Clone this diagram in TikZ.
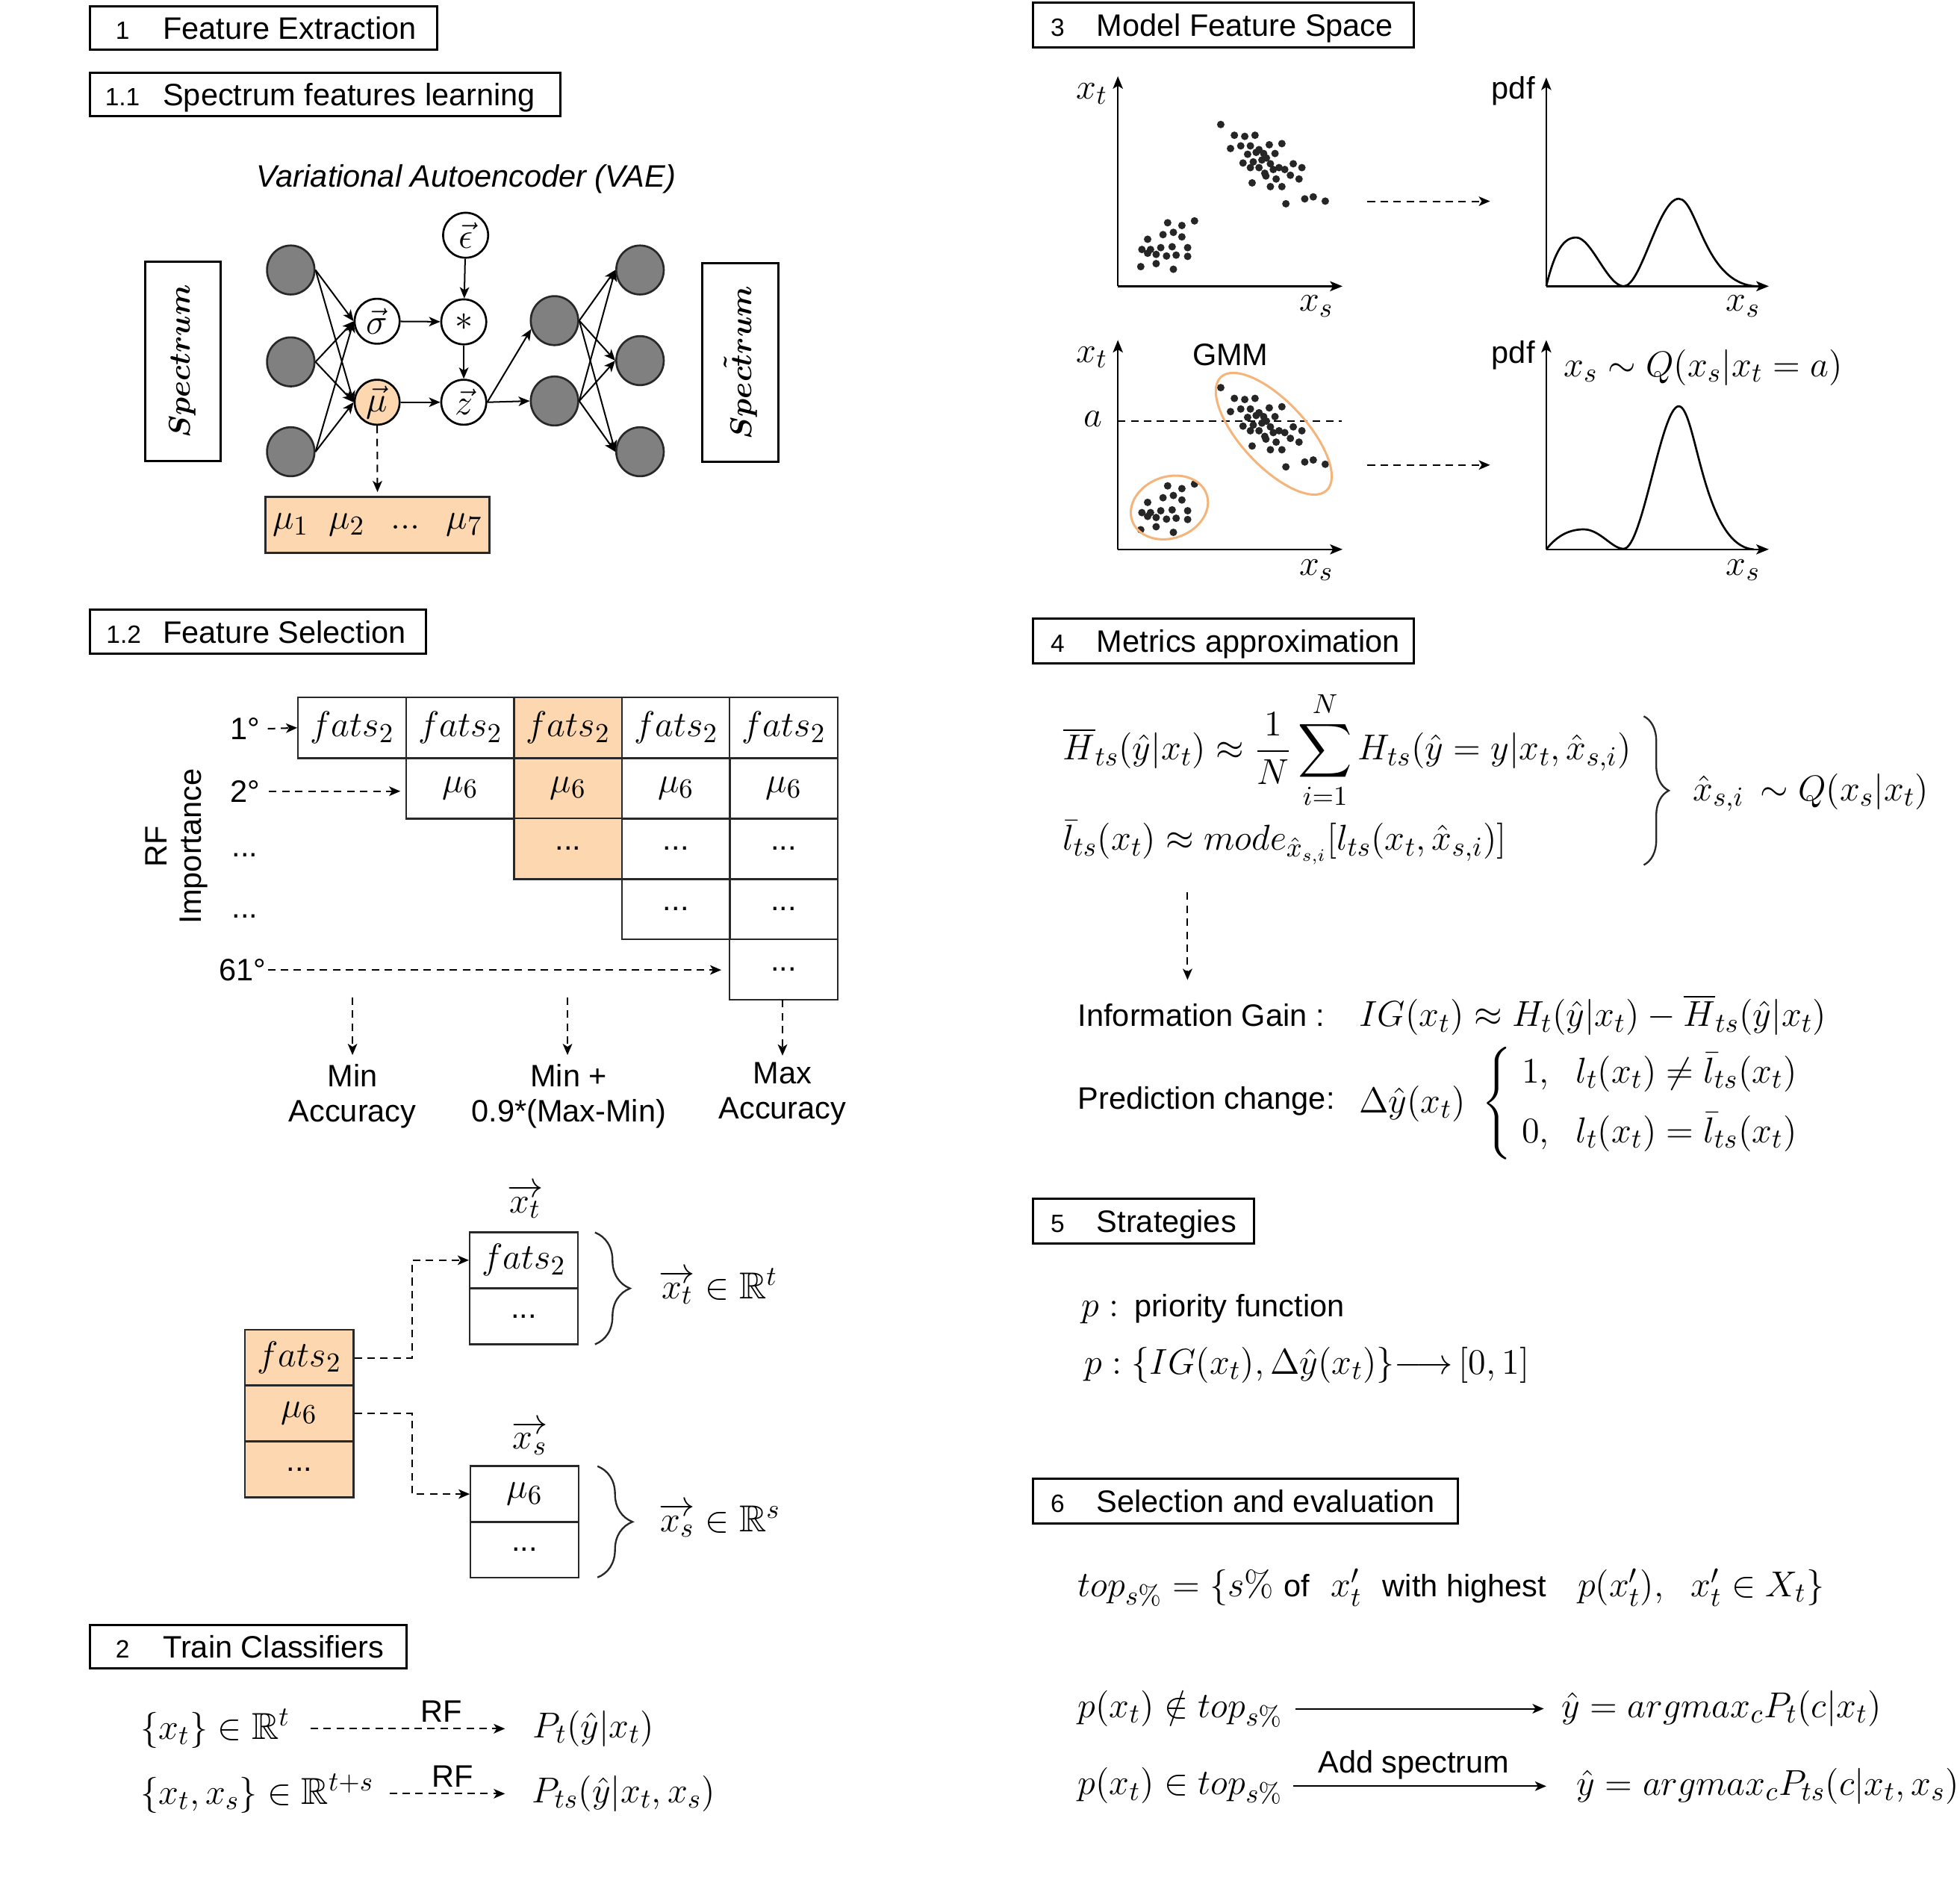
\documentclass[tikz,border=0pt]{standalone}
\usepackage{amsmath}
\usepackage{amssymb}
\usepackage[no-math]{fontspec}
\setmainfont{Liberation Sans}
\usetikzlibrary{arrows.meta,decorations.pathreplacing,calc}
\definecolor{orfill}{RGB}{252,215,176}
\definecolor{orline}{RGB}{244,180,122}
\definecolor{gfill}{RGB}{128,128,128}
\definecolor{dk}{RGB}{40,40,40}
\tikzset{
  sans/.style={font=\fontsize{12.4}{14.5}\selectfont, inner sep=0pt},
  numf/.style={font=\fontsize{10}{12}\selectfont, inner sep=0pt},
  mth/.style={font=\fontsize{15}{18}\selectfont, inner sep=0pt},
  hbox/.style={draw=black, line width=0.9pt},
  atip/.style={-{Stealth[length=4.5pt,width=3.8pt,inset=1.2pt]}},
  arr/.style={atip, line width=0.6pt},
  darr/.style={arr, dash pattern=on 3pt off 2.2pt},
  dline/.style={line width=0.6pt, dash pattern=on 3pt off 2.2pt},
  gcirc/.style={ellipse, draw=dk, line width=0.8pt, fill=gfill, minimum width=19pt, minimum height=19.6pt, inner sep=0pt},
  wcirc/.style={circle, draw=black, line width=0.8pt, fill=white, minimum size=18pt, inner sep=0pt, font=\fontsize{14}{18}\selectfont},
  gcell/.style={draw=dk, line width=0.7pt, minimum width=43.25pt, minimum height=24.25pt, inner sep=0pt, font=\fontsize{15}{19}\selectfont},
  vcell/.style={draw=dk, line width=0.7pt, minimum width=43.2pt, minimum height=22.4pt, inner sep=0pt, font=\fontsize{15}{19}\selectfont},
  axisln/.style={line width=0.7pt, -{Stealth[length=5pt,width=4pt,inset=1.2pt]}},
  brc/.style={decorate, decoration={brace, amplitude=#1}, draw=dk, line width=0.7pt},
  dot/.style={fill=black!85},
  ell/.style={draw=orline, line width=0.9pt},
}
\usetikzlibrary{shapes.geometric}
\begin{document}
\begin{tikzpicture}[x=0.5pt,y=-0.5pt]
\useasboundingbox (0,0) rectangle (1568,1506);

% ---------------- headers ----------------
\draw[hbox] (72,5) rectangle (350,40);
\node[numf,anchor=base] (n1) at (98,31.5) {1};
\node[sans,anchor=base west] (t1) at (130,31.5) {Feature Extraction};
\draw[hbox] (72,58) rectangle (448,93);
\node[numf,anchor=base] (n11) at (98,84.5) {1.1};
\node[sans,anchor=base west] (t11) at (130,84.5) {Spectrum features learning};
\draw[hbox] (72,488) rectangle (341,523);
\node[numf,anchor=base] (n12) at (99,514.5) {1.2};
\node[sans,anchor=base west] (t12) at (130,514.5) {Feature Selection};
\draw[hbox] (72,1300) rectangle (325,1335);
\node[numf,anchor=base] (n2) at (98,1326.5) {2};
\node[sans,anchor=base west] (t2) at (130,1326.5) {Train Classifiers};
\draw[hbox] (826.5,2) rectangle (1131,38);
\node[numf,anchor=base] (n3) at (846,29) {3};
\node[sans,anchor=base west] (t3) at (877,29) {Model Feature Space};
\draw[hbox] (826.5,495) rectangle (1131,531);
\node[numf,anchor=base] (n4) at (846,522) {4};
\node[sans,anchor=base west] (t4) at (877,522) {Metrics approximation};
\draw[hbox] (826.5,959) rectangle (1003.5,995);
\node[numf,anchor=base] (n5) at (846,986) {5};
\node[sans,anchor=base west] (t5) at (877,986) {Strategies};
\draw[hbox] (826.5,1183) rectangle (1166,1219);
\node[numf,anchor=base] (n6) at (846,1210) {6};
\node[sans,anchor=base west] (t6) at (877,1210) {Selection and evaluation};

% ---------------- 1.1 VAE ----------------
\node[sans,font=\fontsize{12.4}{15}\selectfont\itshape] (vae) at (373,143) {Variational Autoencoder (VAE)};
\draw[hbox] (116,209.5) rectangle (176.5,369);
\node[rotate=90,font=\fontsize{12.5}{15}\selectfont,inner sep=0pt] (spl) at (146,289) {$\boldsymbol{Spectrum}$};
\draw[hbox] (562,210.5) rectangle (623,369.5);
\node[rotate=90,font=\fontsize{12.5}{15}\selectfont,inner sep=0pt] (spr) at (592.5,290) {$\boldsymbol{\tilde{Spectrum}}$};

\node[gcirc] (gl1) at (232.6,216) {};
\node[gcirc] (gl2) at (232.6,289.5) {};
\node[gcirc] (gl3) at (232.6,361.4) {};
\node[wcirc] (sig) at (301.7,257) {$\vec{\sigma}$};
\node[wcirc,fill=orfill] (mu) at (301.7,321.8) {$\vec{\mu}$};
\node[wcirc] (eps) at (372.5,188.2) {$\vec{\epsilon}$};
\node[wcirc] (star) at (371,257.5) {$*$};
\node[wcirc] (zz) at (371,321.8) {$\vec{z}$};
\node[gcirc] (gm1) at (443.6,256.5) {};
\node[gcirc] (gm2) at (443.6,320.8) {};
\node[gcirc] (gr1) at (512,216) {};
\node[gcirc] (gr2) at (512,288.5) {};
\node[gcirc] (gr3) at (512,361.4) {};
\foreach \g in {gl1,gl2,gl3}{
  \draw[arr] (\g.east) -- (sig.west);
  \draw[arr] (\g.east) -- (mu.west);
}
\draw[arr] (sig) -- (star);
\draw[arr] (mu) -- (zz);
\draw[arr] (eps) -- (star);
\draw[arr] (star) -- (zz);
\draw[arr] (zz.east) -- (gm1.200);
\draw[arr] (zz.east) -- (gm2.west);
\foreach \m in {gm1,gm2}{\foreach \r in {gr1,gr2,gr3}{\draw[arr] (\m.east) -- (\r.west);}}
\node[draw=dk,line width=0.8pt,fill=orfill,minimum width=89.7pt,minimum height=22.5pt,inner sep=0pt,font=\fontsize{15.5}{19}\selectfont] (mubox) at (302,420) {$\mu_1\;\;\mu_2\;\;\,...\;\;\,\mu_7$};
\draw[darr,shorten >=1.5pt] (mu.south) -- (mubox.north);

% ---------------- 1.2 Feature selection grid ----------------
\foreach \c/\x in {1/281.75,2/368.25,3/454.5,4/540.75,5/627}{
  \node[gcell,fill=white] (c1\c) at (\x,582.25) {$fats_2$};
}
\node[gcell,fill=orfill] (c13) at (454.5,582.25) {$fats_2$};
\foreach \c/\x in {2/368.25,3/454.5,4/540.75,5/627}{
  \node[gcell] (c2\c) at (\x,630.75) {$\mu_6$};
}
\node[gcell,fill=orfill] (c23) at (454.5,630.75) {$\mu_6$};
\node[gcell,fill=orfill] (c33) at (454.5,679) {\fontsize{12.4}{14}\selectfont ...};
\node[gcell] (c34) at (540.75,679) {\fontsize{12.4}{14}\selectfont ...};
\node[gcell] (c35) at (627,679) {\fontsize{12.4}{14}\selectfont ...};
\node[gcell] (c44) at (540.75,727.25) {\fontsize{12.4}{14}\selectfont ...};
\node[gcell] (c45) at (627,727.25) {\fontsize{12.4}{14}\selectfont ...};
\node[gcell] (c55) at (627,775.75) {\fontsize{12.4}{14}\selectfont ...};

\node[sans] (r1) at (196,583) {1°};
\node[sans] (r2) at (196,633) {2°};
\node[sans] (r3) at (196,684) {...};
\node[sans] (r4) at (196,733) {...};
\node[sans] (r5) at (194,776) {61°};
\draw[darr] ([xshift=3pt]r1.east) -- (c11.west);
\draw[darr,shorten >=2pt] ([xshift=3.5pt]r2.east) -- (r2.east -| c22.west);
\draw[darr,shorten >=3pt] ([xshift=0.5pt]r5.east) -- (r5.east -| c55.west);
\node[sans,rotate=90,align=center,font=\fontsize{12.4}{13.8}\selectfont] (rfi) at (141.5,677) {RF\\Importance};

\node[sans,align=center,font=\fontsize{12.4}{14}\selectfont] (acc1) at (282,877) {Min\\Accuracy};
\node[sans,align=center,font=\fontsize{12.4}{14}\selectfont] (acc2) at (455,877) {Min +\\0.9*(Max-Min)};
\node[sans,align=center,font=\fontsize{12.4}{14}\selectfont] (acc3) at (626,875) {Max\\Accuracy};
\coordinate (d1) at (282,798);
\coordinate (d2) at (454,798);
\coordinate (d3) at (626,800);
\draw[darr,shorten >=3.5pt] (d1) -- (acc1.north);
\draw[darr,shorten >=3.5pt] (d2) -- (d2 |- acc2.north);
\draw[darr,shorten >=2.5pt] (d3) -- (acc3.north);

% ---------------- x_t / x_s split ----------------
\node[mth] (xtl) at (420,961) {$\overrightarrow{x_t}$};
\node[vcell] (xt1) at (419,1008.2) {$fats_2$};
\node[vcell] (xt2) at (419,1053) {\fontsize{12.4}{14}\selectfont ...};
\node[mth] (xsl) at (424,1150) {$\overrightarrow{x_s}$};
\node[vcell] (xs1) at (419.7,1195.3) {$\mu_6$};
\node[vcell] (xs2) at (419.7,1239.9) {\fontsize{12.4}{14}\selectfont ...};
\node[vcell,fill=orfill,minimum width=43.4pt] (st1) at (239.4,1086.3) {$fats_2$};
\node[vcell,fill=orfill,minimum width=43.4pt] (st2) at (239.4,1130.8) {$\mu_6$};
\node[vcell,fill=orfill,minimum width=43.4pt] (st3) at (239.4,1175.5) {\fontsize{12.4}{14}\selectfont ...};
\draw[darr] (st1.east) -- ++(23pt,0) |- (xt1.west);
\draw[darr] (st2.east) -- ++(23pt,0) |- (xs1.west);
\coordinate (bt1) at (476,986);
\coordinate (bt2) at (476,1075.5);
\coordinate (bs1) at (478,1173);
\coordinate (bs2) at (478,1262);
\draw[brc=14pt] (bt1) -- (bt2);
\draw[brc=14pt] (bs1) -- (bs2);
\node[mth,anchor=west] (xtR) at (527,1029) {$\overrightarrow{x_t}\in\mathbb{R}^t$};
\node[mth,anchor=west] (xsR) at (527,1216) {$\overrightarrow{x_s}\in\mathbb{R}^s$};

% ---------------- 2 Train classifiers ----------------
\node[mth,anchor=west] (s2a) at (112,1383) {$\{x_t\}\in\mathbb{R}^t$};
\node[mth,anchor=west] (s2b) at (426,1383) {$P_t(\hat{y}|x_t)$};
\draw[darr] ([xshift=8pt]s2a.east) -- ([xshift=-11pt]s2a.east -| s2b.west);
\node[sans] (rf1) at (353,1369) {RF};
\node[mth,anchor=west] (s2c) at (112,1435) {$\{x_t,x_s\}\in\mathbb{R}^{t+s}$};
\node[mth,anchor=west] (s2d) at (425,1435) {$P_{ts}(\hat{y}|x_t,x_s)$};
\draw[darr] ([xshift=6pt]s2c.east) -- ([xshift=-10.5pt]s2c.east -| s2d.west);
\node[sans] (rf2) at (362,1421) {RF};

% ---------------- 3 Model feature space ----------------
\coordinate (o1) at (894.3,229);
\coordinate (o2) at (1237,229);
\coordinate (o3) at (894.3,439.5);
\coordinate (o4) at (1237,439.5);
\draw[axisln] (o1) -- (894.3,61);
\draw[axisln] (o1) -- (1074,229);
\draw[axisln] (o2) -- (1237,62);
\draw[axisln] (o2) -- (1415,229);
\draw[axisln] (o3) -- (894.3,272);
\draw[axisln] (o3) -- (1074,439.5);
\draw[axisln] (o4) -- (1237,272);
\draw[axisln] (o4) -- (1415,439.5);

\node[mth] (p1xt) at (873.5,75) {$x_t$};
\node[mth] (p1xs) at (1053,245) {$x_s$};
\node[sans] (p2pdf) at (1210.6,73) {pdf};
\node[mth] (p2xs) at (1394.5,245) {$x_s$};
\node[mth] (p3xt) at (873.5,286) {$x_t$};
\node[sans] (gmm) at (984.3,284) {GMM};
\node[mth] (p3a) at (874.7,335) {$a$};
\node[mth] (p3xs) at (1053,456) {$x_s$};
\node[sans] (p4pdf) at (1210.6,284) {pdf};
\node[mth] (p4q) at (1362.5,294) {$x_s\sim Q(x_s|x_t=a)$};
\node[mth] (p4xs) at (1394.5,456) {$x_s$};

\draw[dline] (894.3,336.7) -- (1073.5,336.7);

\foreach \dy in {0,210.5}{
\foreach \x/\y in {976.6/99.6,987.5/108.2,995.8/109.1,1004.0/108.2,984.4/118.8,992.6/116.7,1000.3/116.7,1007.2/119.7,1015.4/115.8,1025.5/114.9,998.1/123.4,1004.9/121.9,1010.9/122.8,1013.1/126.4,1020.0/122.8,994.4/130.4,1002.6/129.5,1009.5/128.0,1016.3/131.0,1023.2/134.1,1034.6/131.0,1041.5/134.1,1011.8/138.6,1018.6/135.6,1027.8/135.6,1001.7/146.3,1012.7/140.8,1020.9/143.2,1032.3/140.2,1039.2/143.2,1016.3/149.3,1025.5/149.3,1028.7/163.0,1043.8/159.1,1050.6/157.5,1060.2/160.9,1007.2/134.1,1000.3/134.1,934.1/178.2,945.5/180.4,955.6/176.7,918.1/191.4,930.4/187.7,938.7/185.9,945.5/189.5,913.5/199.6,920.4/199.6,928.6/198.1,937.7/197.4,950.1/198.1,918.1/202.6,924.9/203.5,933.2/204.8,940.9/204.1,950.1/205.1,912.6/213.3,924.9/210.9,938.7/215.4}{
  \fill[dot] (\x,\y+\dy) circle[radius=3];
}}
\draw[ell] (935.5,406) ellipse [x radius=15.8pt, y radius=12.3pt, rotate=20];
\draw[ell] (1019,347) ellipse [x radius=31pt, y radius=13pt, rotate=-47];

\draw[line width=0.8pt] (o2) .. controls (1244,200) and (1251,190) .. (1261,190)
  .. controls (1273,190) and (1286,229) .. (1299,229)
  .. controls (1313,229) and (1327,159) .. (1343,159)
  .. controls (1358,159) and (1363,227) .. (1405,229);
\draw[line width=0.8pt] (o4) .. controls (1246,428) and (1256,423.5) .. (1267,423.5)
  .. controls (1280,423.5) and (1290,439.5) .. (1299,439)
  .. controls (1314,439) and (1329,325) .. (1343,325)
  .. controls (1357,325) and (1362,437) .. (1403,439.5);

\coordinate (f1a) at (1094,161);
\coordinate (f1b) at (1192,161);
\coordinate (f2a) at (1094,372);
\coordinate (f2b) at (1192,372);
\draw[darr] (f1a) -- (f1b);
\draw[darr] (f2a) -- (f2b);

% ---------------- 4 Metrics approximation ----------------
\node[mth,anchor=west] (e1) at (850,600) {$\displaystyle \overline{H}_{ts}(\hat{y}|x_t)\approx\frac{1}{N}\sum_{i=1}^{N}H_{ts}(\hat{y}=y|x_t,\hat{x}_{s,i})$};
\node[mth,anchor=west] (e2) at (850,674) {$\bar{l}_{ts}(x_t)\approx mode_{\hat{x}_{s,i}}[l_{ts}(x_t,\hat{x}_{s,i})]$};
\coordinate (b4a) at (1315,573);
\coordinate (b4b) at (1315,692);
\draw[brc=10pt] (b4a) -- (b4b);
\node[mth,anchor=west] (qlab) at (1354,634) {$\hat{x}_{s,i}\,\sim Q(x_s|x_t)$};
\coordinate (m4a) at (950,714);
\coordinate (m4b) at (950,784);
\draw[darr] (m4a) -- (m4b);
\node[sans,anchor=west] (igl) at (862,812) {Information Gain :};
\node[mth,anchor=west] (ige) at (1087,812) {$IG(x_t)\approx H_t(\hat{y}|x_t)-\overline{H}_{ts}(\hat{y}|x_t)$};
\node[sans,anchor=west] (pcl) at (862,881) {Prediction change:};
\node[mth,anchor=west] (pce) at (1087,883) {$\Delta\hat{y}(x_t)\;\left\{\;\begin{array}{@{}l@{}}1,\ \ l_t(x_t)\neq\bar{l}_{ts}(x_t)\\[6pt]0,\ \ l_t(x_t)=\bar{l}_{ts}(x_t)\end{array}\right.$};

% ---------------- 5 Strategies ----------------
\node[anchor=west,inner sep=0pt] (p1) at (865,1047) {\fontsize{15}{19}\selectfont$p:$\hspace{6pt}\fontsize{12.4}{15}\selectfont priority function};
\node[mth,anchor=west] (p2) at (867,1092) {$p:\{IG(x_t),\Delta\hat{y}(x_t)\}{\longrightarrow}\,[0,1]$};

% ---------------- 6 Selection ----------------
\node[mth,anchor=west] (topq) at (862,1270) {$top_{s\%}=\{s\%\ \mbox{\fontsize{12.4}{15}\selectfont of}\ \ x'_t\ \ \mbox{\fontsize{12.4}{15}\selectfont with highest}\ \ \ p(x'_t),\ \ x'_t\in X_t\}$};
\node[mth,anchor=west] (r6a) at (862,1367) {$p(x_t)\notin top_{s\%}$};
\node[mth,anchor=west] (r6b) at (1249,1367) {$\hat{y}=argmax_cP_t(c|x_t)$};
\draw[arr] ([xshift=5pt]r6a.east) -- ([xshift=-7pt]r6a.east -| r6b.west);
\node[mth,anchor=west] (r6c) at (862,1429) {$p(x_t)\in top_{s\%}$};
\node[mth,anchor=west] (r6d) at (1261,1429) {$\hat{y}=argmax_cP_{ts}(c|x_t,x_s)$};
\draw[arr] ([xshift=4pt]r6c.east) -- ([xshift=-12pt]r6c.east -| r6d.west);
\node[sans] (adds) at (1131,1412) {Add spectrum};
\end{tikzpicture}
\end{document}
